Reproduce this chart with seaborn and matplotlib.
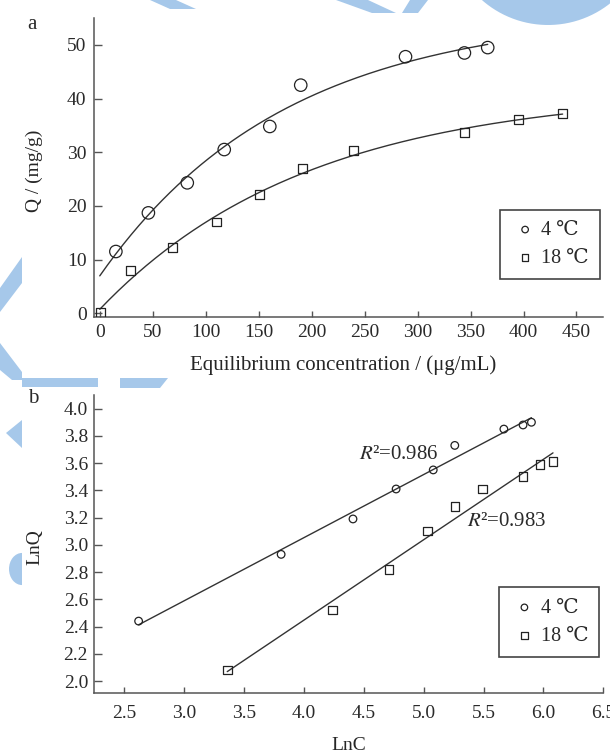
import numpy as np
import matplotlib.pyplot as plt
import seaborn as sns
from matplotlib.patches import Polygon, Wedge

# panel a: equilibrium concentration (ug/mL) vs adsorbed amount Q (mg/g)
c_4 = [15.2, 45.9, 82.6, 117.5, 160.5, 189.7, 288.6, 344.2, 366.2]
q_4 = [11.5, 18.7, 24.3, 30.5, 34.8, 42.5, 47.8, 48.5, 49.5]
c_18 = [0.4, 29.3, 68.8, 110.3, 150.5, 191.3, 239.7, 344.2, 395.4, 436.9]
q_18 = [0.2, 7.9, 12.3, 17.0, 22.1, 26.9, 30.3, 33.7, 36.1, 37.2]

# panel b: LnC vs LnQ
lnc_4 = [2.62, 3.81, 4.41, 4.77, 5.08, 5.26, 5.67, 5.83, 5.90]
lnq_4 = [2.44, 2.93, 3.19, 3.41, 3.55, 3.73, 3.85, 3.88, 3.90]
lnc_18 = [3.36, 4.24, 4.71, 5.03, 5.26, 5.49, 5.83, 5.97, 6.08]
lnq_18 = [2.08, 2.52, 2.82, 3.10, 3.28, 3.41, 3.50, 3.59, 3.61]

labels = ['4 ℃', '18 ℃']
r2_text = ['$R$²=0.986', '$R$²=0.983']


def sat_fit(x, y):
    # least squares fit of y = a + b*exp(-k*x), k found by a simple scan
    x = np.asarray(x, float)
    y = np.asarray(y, float)
    best = None
    for k in np.linspace(0.0005, 0.05, 2000):
        A = np.column_stack([np.ones_like(x), np.exp(-k * x)])
        coef = np.linalg.lstsq(A, y, rcond=None)[0]
        sse = ((A @ coef - y) ** 2).sum()
        if best is None or sse < best[0]:
            best = (sse, k, coef)
    return best[1], best[2]


sns.set_theme(style='ticks')
plt.rcParams['font.family'] = ['Liberation Serif', 'DejaVu Serif']
plt.rcParams['mathtext.fontset'] = 'stix'
plt.rcParams['axes.edgecolor'] = '#555555'
plt.rcParams['axes.linewidth'] = 1.1
plt.rcParams['xtick.color'] = '#555555'
plt.rcParams['ytick.color'] = '#555555'
plt.rcParams['xtick.labelcolor'] = '#2a2a2a'
plt.rcParams['ytick.labelcolor'] = '#2a2a2a'
plt.rcParams['text.color'] = '#2a2a2a'

line_col = '#333333'
mk_col = '#222222'

fig = plt.figure(figsize=(6.1, 7.53), dpi=100)

# light blue watermark pieces peeking out around the scanned figure
W, H = 610, 753
wm = '#a6c8ea'


def px(pts):
    return [(x / W, 1 - y / H) for x, y in pts]


for pts in [
    [(150, 0), (176, 0), (196, 9), (170, 9)],
    [(336, 0), (368, 0), (396, 13), (372, 13)],
    [(410, 0), (428, 0), (418, 13), (402, 13)],
    [(0, 288), (22, 257), (22, 283), (0, 312)],
    [(0, 343), (0, 370), (12, 380), (22, 380), (22, 372)],
    [(22, 378), (98, 378), (98, 387), (22, 387)],
    [(120, 378), (168, 378), (160, 388), (120, 388)],
    [(6, 433), (22, 420), (22, 448)],
]:
    fig.add_artist(Polygon(px(pts), closed=True, transform=fig.transFigure,
                           fc=wm, ec='none', zorder=0))
theta = np.linspace(np.pi * 0.95, np.pi * 0.05, 60)
arc_out = [(548 + 95 * np.cos(t), -75 + 95 * np.sin(-t) * -1) for t in theta]
arc_out = [(x, -75 + 100 * np.sin(t)) for x, t in zip([548 + 100 * np.cos(t) for t in theta], theta)]
fig.add_artist(Polygon(px([(448, 0)] + arc_out[::-1][::-1] + [(610, 0)]), closed=True,
                       transform=fig.transFigure, fc=wm, ec='none', zorder=0))
fig.add_artist(Wedge((22 / W, 1 - 569 / H), 13 / W, 90, 270, transform=fig.transFigure,
                     fc=wm, ec='none', zorder=0))

ax1 = fig.add_axes([0.1533, 0.5794, 0.8352, 0.3966])
ax2 = fig.add_axes([0.1546, 0.0793, 0.8344, 0.3961])
for ax in (ax1, ax2):
    ax.patch.set_alpha(0)

# ---- panel a ----
for c, q in [(c_4, q_4), (c_18, q_18)]:
    k, (a, b) = sat_fit(c, q)
    xs = np.linspace(0, max(c), 200)
    sns.lineplot(x=xs, y=a + b * np.exp(-k * xs), ax=ax1, color=line_col, lw=1.0)

sns.scatterplot(x=c_4, y=q_4, ax=ax1, marker='o', s=80, facecolors='none',
                edgecolor=mk_col, linewidth=0.9, label=labels[0], zorder=3)
sns.scatterplot(x=c_18, y=q_18, ax=ax1, marker='s', s=40, facecolors='none',
                edgecolor=mk_col, linewidth=0.9, label=labels[1], zorder=3)

ax1.set_xlim(-5.9, 475)
ax1.set_ylim(-0.65, 55)
ax1.set_xticks(np.arange(0, 451, 50))
ax1.set_yticks(np.arange(0, 51, 10))
ax1.tick_params(axis='x', direction='in', length=4.5, width=1.0, pad=5.5, labelsize=14)
ax1.tick_params(axis='y', direction='in', length=6, width=1.0, pad=5, labelsize=14)
ax1.set_xlabel('Equilibrium concentration / (μg/mL)', fontsize=15)
ax1.set_ylabel('Q / (mg/g)', fontsize=14)
ax1.xaxis.set_label_coords(0.49, -0.13)
ax1.yaxis.set_label_coords(-0.1, 0.49)

# ---- panel b ----
for lc, lq in [(lnc_4, lnq_4), (lnc_18, lnq_18)]:
    sns.regplot(x=lc, y=lq, ax=ax2, scatter=False, ci=None, truncate=True,
                line_kws={'color': line_col, 'lw': 1.0})

sns.scatterplot(x=lnc_4, y=lnq_4, ax=ax2, marker='o', s=30, facecolors='none',
                edgecolor=mk_col, linewidth=0.9, label=labels[0], zorder=3)
sns.scatterplot(x=lnc_18, y=lnq_18, ax=ax2, marker='s', s=38, facecolors='none',
                edgecolor=mk_col, linewidth=0.9, label=labels[1], zorder=3)

ax2.text(4.79, 3.66, r2_text[0], fontsize=15, ha='center', va='center')
ax2.text(5.69, 3.17, r2_text[1], fontsize=15, ha='center', va='center')

ax2.set_xlim(2.25, 6.5)
ax2.set_ylim(1.91, 4.10)
ax2.set_xticks(np.arange(2.5, 6.51, 0.5))
ax2.set_yticks(np.arange(2.0, 4.01, 0.2))
ax2.xaxis.set_major_formatter(plt.FormatStrFormatter('%.1f'))
ax2.yaxis.set_major_formatter(plt.FormatStrFormatter('%.1f'))
ax2.tick_params(axis='x', direction='in', length=4.5, width=1.0, pad=8.5, labelsize=14)
ax2.tick_params(axis='y', direction='in', length=6, width=1.0, pad=4.5, labelsize=14)
ax2.set_xlabel('LnC', fontsize=14)
ax2.set_ylabel('LnQ', fontsize=14)
ax2.xaxis.set_label_coords(0.5, -0.145)
ax2.yaxis.set_label_coords(-0.1, 0.49)

for ax, anchor in [(ax1, (0.994, 0.126)), (ax2, (0.992, 0.122))]:
    leg = ax.legend(loc='lower right', bbox_to_anchor=anchor, fontsize=14.5,
                    frameon=True, fancybox=False, edgecolor='#444444', framealpha=1,
                    borderaxespad=0, handletextpad=0.1, borderpad=0.55,
                    labelspacing=0.45, handlelength=1.4)
    leg.get_frame().set_linewidth(1.2)
    for h in leg.legend_handles:
        h.set_sizes([22])
    sns.despine(ax=ax)

fig.text(0.052, 0.967, 'a', fontsize=15, ha='center', va='center')
fig.text(0.054, 0.471, 'b', fontsize=15, ha='center', va='center')

fig.savefig('out.png', dpi=100)
